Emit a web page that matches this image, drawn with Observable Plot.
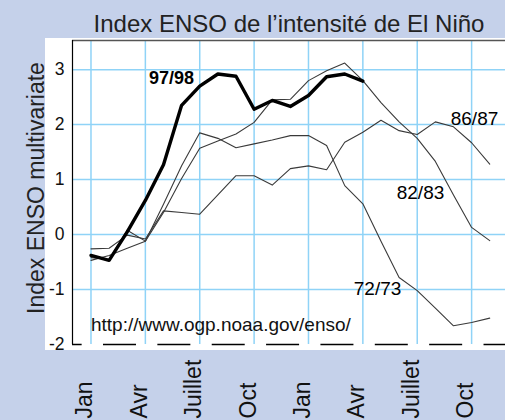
<!DOCTYPE html>
<html><head><meta charset="utf-8">
<script src="https://cdn.jsdelivr.net/npm/d3@7"></script>
<script src="https://cdn.jsdelivr.net/npm/@observablehq/plot@0.6"></script>
<style>
html,body{margin:0;padding:0;background:#c5d1ea;}
#wrap{position:relative;width:505px;height:420px;overflow:hidden;}
#panel{position:absolute;left:45px;top:38px;width:460px;height:312px;background:#fff;}
#chart{position:absolute;left:0;top:0;}
</style></head><body>
<div id="wrap"><div id="panel"></div><div id="chart"></div></div>
<script>
// month index 0 = Jan of first year
const s9798 = [-0.38,-0.47,0.05,0.62,1.27,2.35,2.7,2.92,2.88,2.28,2.44,2.33,2.53,2.87,2.92,2.79];
const s7273 = [-0.47,-0.38,-0.25,-0.12,0.55,1.25,1.85,1.75,1.58,1.65,1.72,1.8,1.8,1.62,0.89,0.56,-0.12,-0.78,-1.02,-1.34,-1.66,-1.6,-1.52];
const s8283 = [-0.42,-0.45,0.08,-0.12,0.4,1.02,1.57,1.7,1.83,2.04,2.45,2.46,2.8,2.98,3.12,2.8,2.4,2.05,1.75,1.33,0.72,0.13,-0.11];
const s8687 = [-0.26,-0.25,-0.01,-0.08,0.43,0.4,0.37,0.72,1.07,1.07,0.9,1.2,1.25,1.18,1.68,1.86,2.08,1.89,1.82,2.05,1.96,1.67,1.28];

const xTickPos = [0,3,6,9,12,15,18,21];
const xTickLabels = ["Jan","Avr","Juillet","Oct","Jan","Avr","Juillet","Oct"];
const yTicks = [-2,-1,0,1,2,3];
const yGrid = [-1,0,1,2,3];
const xDomain = [-1.02, 22.87];
const yDomain = [-2, 3.53];

const seriesNames = ["72/73","82/83","86/87"];
const seriesVals = [s7273, s8283, s8687];
const boldLabels = [{m:4.44, v:2.84, t:"97/98"}];
const plainLabels = [
  {m:21.16, v:2.11, t:"86/87"},
  {m:18.18, v:0.76, t:"82/83"},
  {m:15.81, v:-0.98, t:"72/73"}
];
const url = "http://www.ogp.noaa.gov/enso/";
const title = "Index ENSO de l\u2019intensit\u00e9 de El Ni\u00f1o";
const yLabel = "Index ENSO multivariate";

const thin = [];
seriesVals.forEach((arr, k) => arr.forEach((v, m) => thin.push({s: seriesNames[k], m, v})));
const thick = s9798.map((v, m) => ({m, v}));

const grid = "#8fd3f7";
const chart = Plot.plot({
  width: 505, height: 420,
  marginLeft: 72, marginRight: 0, marginTop: 40, marginBottom: 76,
  x: {domain: xDomain, axis: null},
  y: {domain: yDomain},
  style: {background: "transparent", fontFamily: "'Liberation Sans', Arial, sans-serif", overflow: "visible"},
  marks: [
    Plot.ruleX(xTickPos, {stroke: grid, strokeWidth: 1.5}),
    Plot.ruleY(yGrid, {stroke: grid, strokeWidth: 1.5}),
    Plot.ruleY([yDomain[1]], {stroke: "#555", strokeWidth: 1.5}),
    Plot.ruleX([xDomain[0]], {stroke: "#000", strokeWidth: 1.2}),
    Plot.ruleY([yDomain[0]], {stroke: "#000", strokeWidth: 1.5, strokeDasharray: "33 21.36", strokeDashoffset: 23.36}),
    Plot.line(thin, {x: "m", y: "v", z: "s", stroke: "#3a3a3a", strokeWidth: 1.1}),
    Plot.line(thick, {x: "m", y: "v", stroke: "#000", strokeWidth: 3.4}),
    Plot.axisY(yTicks, {tickSize: 0, tickPadding: 8, fontSize: 17.5, label: null, fill: "#111", tickFormat: d => String(d)}),
    Plot.text(xTickPos, {x: d => d, text: (d, i) => xTickLabels[i], frameAnchor: "bottom", rotate: -90,
      textAnchor: "start", lineAnchor: "bottom", dy: 74, dx: 1.5, fontSize: 23, fill: "#111"}),
    Plot.text([yLabel], {text: d => d, frameAnchor: "left", rotate: -90, textAnchor: "middle",
      lineAnchor: "bottom", dx: -29, dy: -4.5, fontSize: 23, fill: "#222"}),
    Plot.text([title], {text: d => d, frameAnchor: "top", textAnchor: "middle", lineAnchor: "bottom",
      dy: -9, fontSize: 24, fill: "#222"}),
    Plot.text(boldLabels, {x: "m", y: "v", text: "t", fontWeight: "bold", fontSize: 18, fill: "#000"}),
    Plot.text(plainLabels, {x: "m", y: "v", text: "t", fontSize: 19, fill: "#000"}),
    Plot.text([url], {x: () => 0, y: () => -1.65, text: d => d, textAnchor: "start", fontSize: 19, fill: "#111"})
  ]
});
document.getElementById("chart").appendChild(chart);
</script>
</body></html>
